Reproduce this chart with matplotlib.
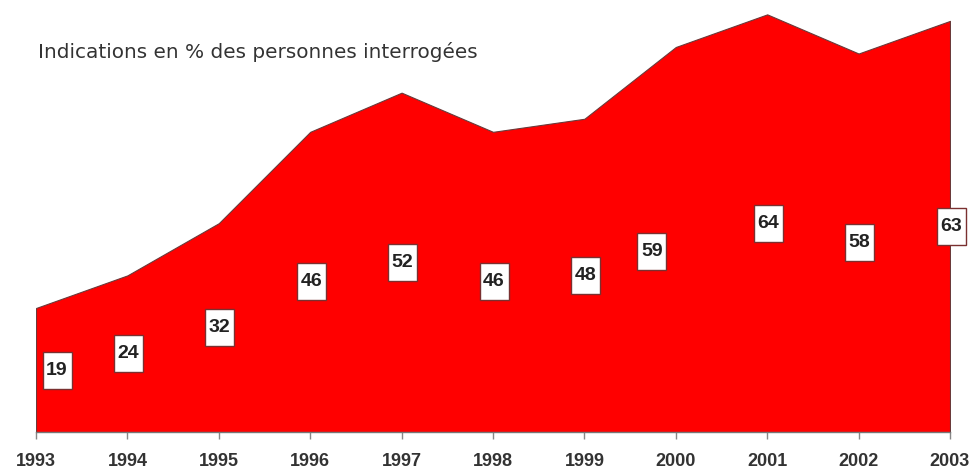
import matplotlib.pyplot as plt
import matplotlib.transforms as mtransforms
from matplotlib.patches import Rectangle

years = [1993, 1994, 1995, 1996, 1997, 1998, 1999, 2000, 2001, 2002, 2003]
values = [19, 24, 32, 46, 52, 46, 48, 59, 64, 58, 63]
title = "Indications en % des personnes interrogées"


def main():
    fig = plt.figure(figsize=(9.77, 4.72), dpi=100)
    ax = fig.add_axes([36 / 977, 40 / 472, 914 / 977, 432 / 472])

    ax.fill_between(years, values, 0, color="#ff0000", edgecolor="#6a3a3a",
                    linewidth=0.8, zorder=1)

    ax.set_xlim(years[0], years[-1])
    ax.set_ylim(0, 66.2)
    ax.set_xticks(years)
    ax.set_xticklabels([str(y) for y in years], fontsize=13, fontweight="bold",
                       color="#333333", family="Liberation Sans")
    ax.tick_params(axis="x", direction="out", length=5, width=1, color="#888888", pad=10)
    ax.set_yticks([])
    for side in ["left", "right", "top"]:
        ax.spines[side].set_visible(False)
    ax.spines["bottom"].set_color("#777777")
    ax.spines["bottom"].set_linewidth(1)
    ax.spines["bottom"].set_zorder(3)

    # value boxes, placed at half of the value; a few nudged (pixels)
    nudge = {1993: (21, 0), 2000: (-24, -12)}
    for x, v in zip(years, values):
        dx, dy = nudge.get(x, (1, 0))
        dx, dy = dx / 100, dy / 100
        off = mtransforms.ScaledTranslation(x, v / 2, ax.transData)
        tr = fig.dpi_scale_trans + off
        ax.add_patch(Rectangle((dx - 0.145, dy - 0.185), 0.29, 0.37, transform=tr,
                               facecolor="white", edgecolor="#7a3030", linewidth=1,
                               zorder=4, clip_on=False))
        ax.text(dx, dy, str(v), transform=tr, ha="center", va="center",
                fontsize=14, fontweight="bold", color="#222222",
                family="Liberation Sans", zorder=5)

    fig.text(38 / 977, 1 - 42 / 472, title, ha="left", va="top", fontsize=14.4,
             color="#333333", family="DejaVu Sans")

    fig.savefig("out.png", dpi=100, facecolor="white")


if __name__ == "__main__":
    main()
